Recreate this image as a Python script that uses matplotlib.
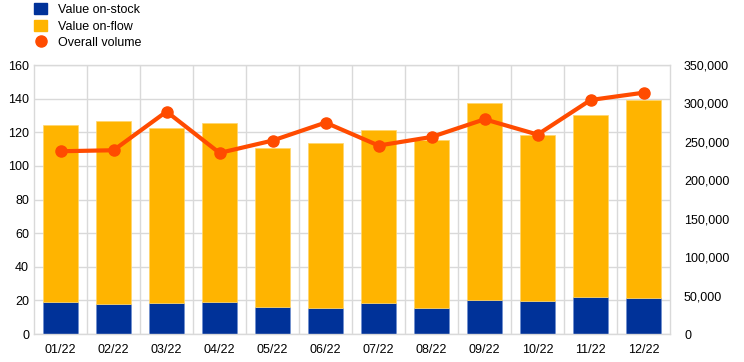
import matplotlib
matplotlib.use("Agg")
import matplotlib.pyplot as plt
from matplotlib.patches import Patch
from matplotlib.lines import Line2D
from matplotlib.ticker import FuncFormatter, MultipleLocator

plt.rcParams['font.family'] = ['Liberation Sans', 'DejaVu Sans']

months = ["01/22", "02/22", "03/22", "04/22", "05/22", "06/22",
          "07/22", "08/22", "09/22", "10/22", "11/22", "12/22"]
stock = [19.2, 17.8, 18.4, 19.2, 16.2, 15.6, 18.2, 15.6, 20.0, 19.4, 22.2, 21.6]
total = [124.6, 126.5, 122.6, 125.3, 110.7, 113.9, 121.2, 115.6, 137.4, 118.4, 130.5, 139.0]
flow = [t - s for t, s in zip(total, stock)]
volume = [237800, 239100, 289400, 235600, 251700, 275100,
          245200, 256400, 279400, 259500, 304500, 314000]

NAVY = "#003299"
YELLOW = "#FFB400"
ORANGE = "#FF4B00"
GRID = "#d9d9d9"

fig = plt.figure(figsize=(7.44, 3.62), dpi=100)
ax = fig.add_axes([0.0457, 0.0773, 0.855, 0.7431])
x = list(range(len(months)))
ax.bar(x, stock, width=0.67, color=NAVY, edgecolor="#6f8fd0", linewidth=0.5, zorder=2)
ax.bar(x, flow, bottom=stock, width=0.67, color=YELLOW, edgecolor="#ffd66b", linewidth=0.5, zorder=2)
ax.set_ylim(0, 160)
ax.set_xlim(-0.5, len(months) - 0.5)
ax.yaxis.set_major_locator(MultipleLocator(20))
ax.set_xticks(x)
ax.set_xticklabels(months)
ax.set_xticks([i + 0.5 for i in x[:-1]], minor=True)
ax.grid(axis="y", which="major", color=GRID, linewidth=1, zorder=0)
ax.grid(axis="x", which="minor", color=GRID, linewidth=1, zorder=0)
ax.tick_params(axis="both", which="both", length=0, labelsize=9, colors="black")
ax.tick_params(axis="x", pad=7)
for s in ax.spines.values():
    s.set_color(GRID)
    s.set_linewidth(1)

ax2 = ax.twinx()
ax2.plot(x, volume, color=ORANGE, linewidth=3, marker="o", markersize=8, zorder=3)
ax2.set_ylim(0, 350000)
ax2.yaxis.set_major_locator(MultipleLocator(50000))
ax2.yaxis.set_major_formatter(FuncFormatter(lambda v, p: f"{int(v):,}"))
ax2.tick_params(axis="y", length=0, labelsize=9, pad=10)
for s in ax2.spines.values():
    s.set_visible(False)

handles = [Patch(facecolor=NAVY, edgecolor=NAVY),
           Patch(facecolor=YELLOW, edgecolor=YELLOW),
           Line2D([], [], color=ORANGE, marker="o", linestyle="none", markersize=8)]
labels = ["Value on-stock", "Value on-flow", "Overall volume"]
fig.legend(handles, labels, loc="upper left", bbox_to_anchor=(0.031, 1.022),
           frameon=False, fontsize=9, handlelength=1.0, handleheight=1.0,
           handletextpad=0.9, labelspacing=0.3)

fig.savefig("out.png", dpi=100)
